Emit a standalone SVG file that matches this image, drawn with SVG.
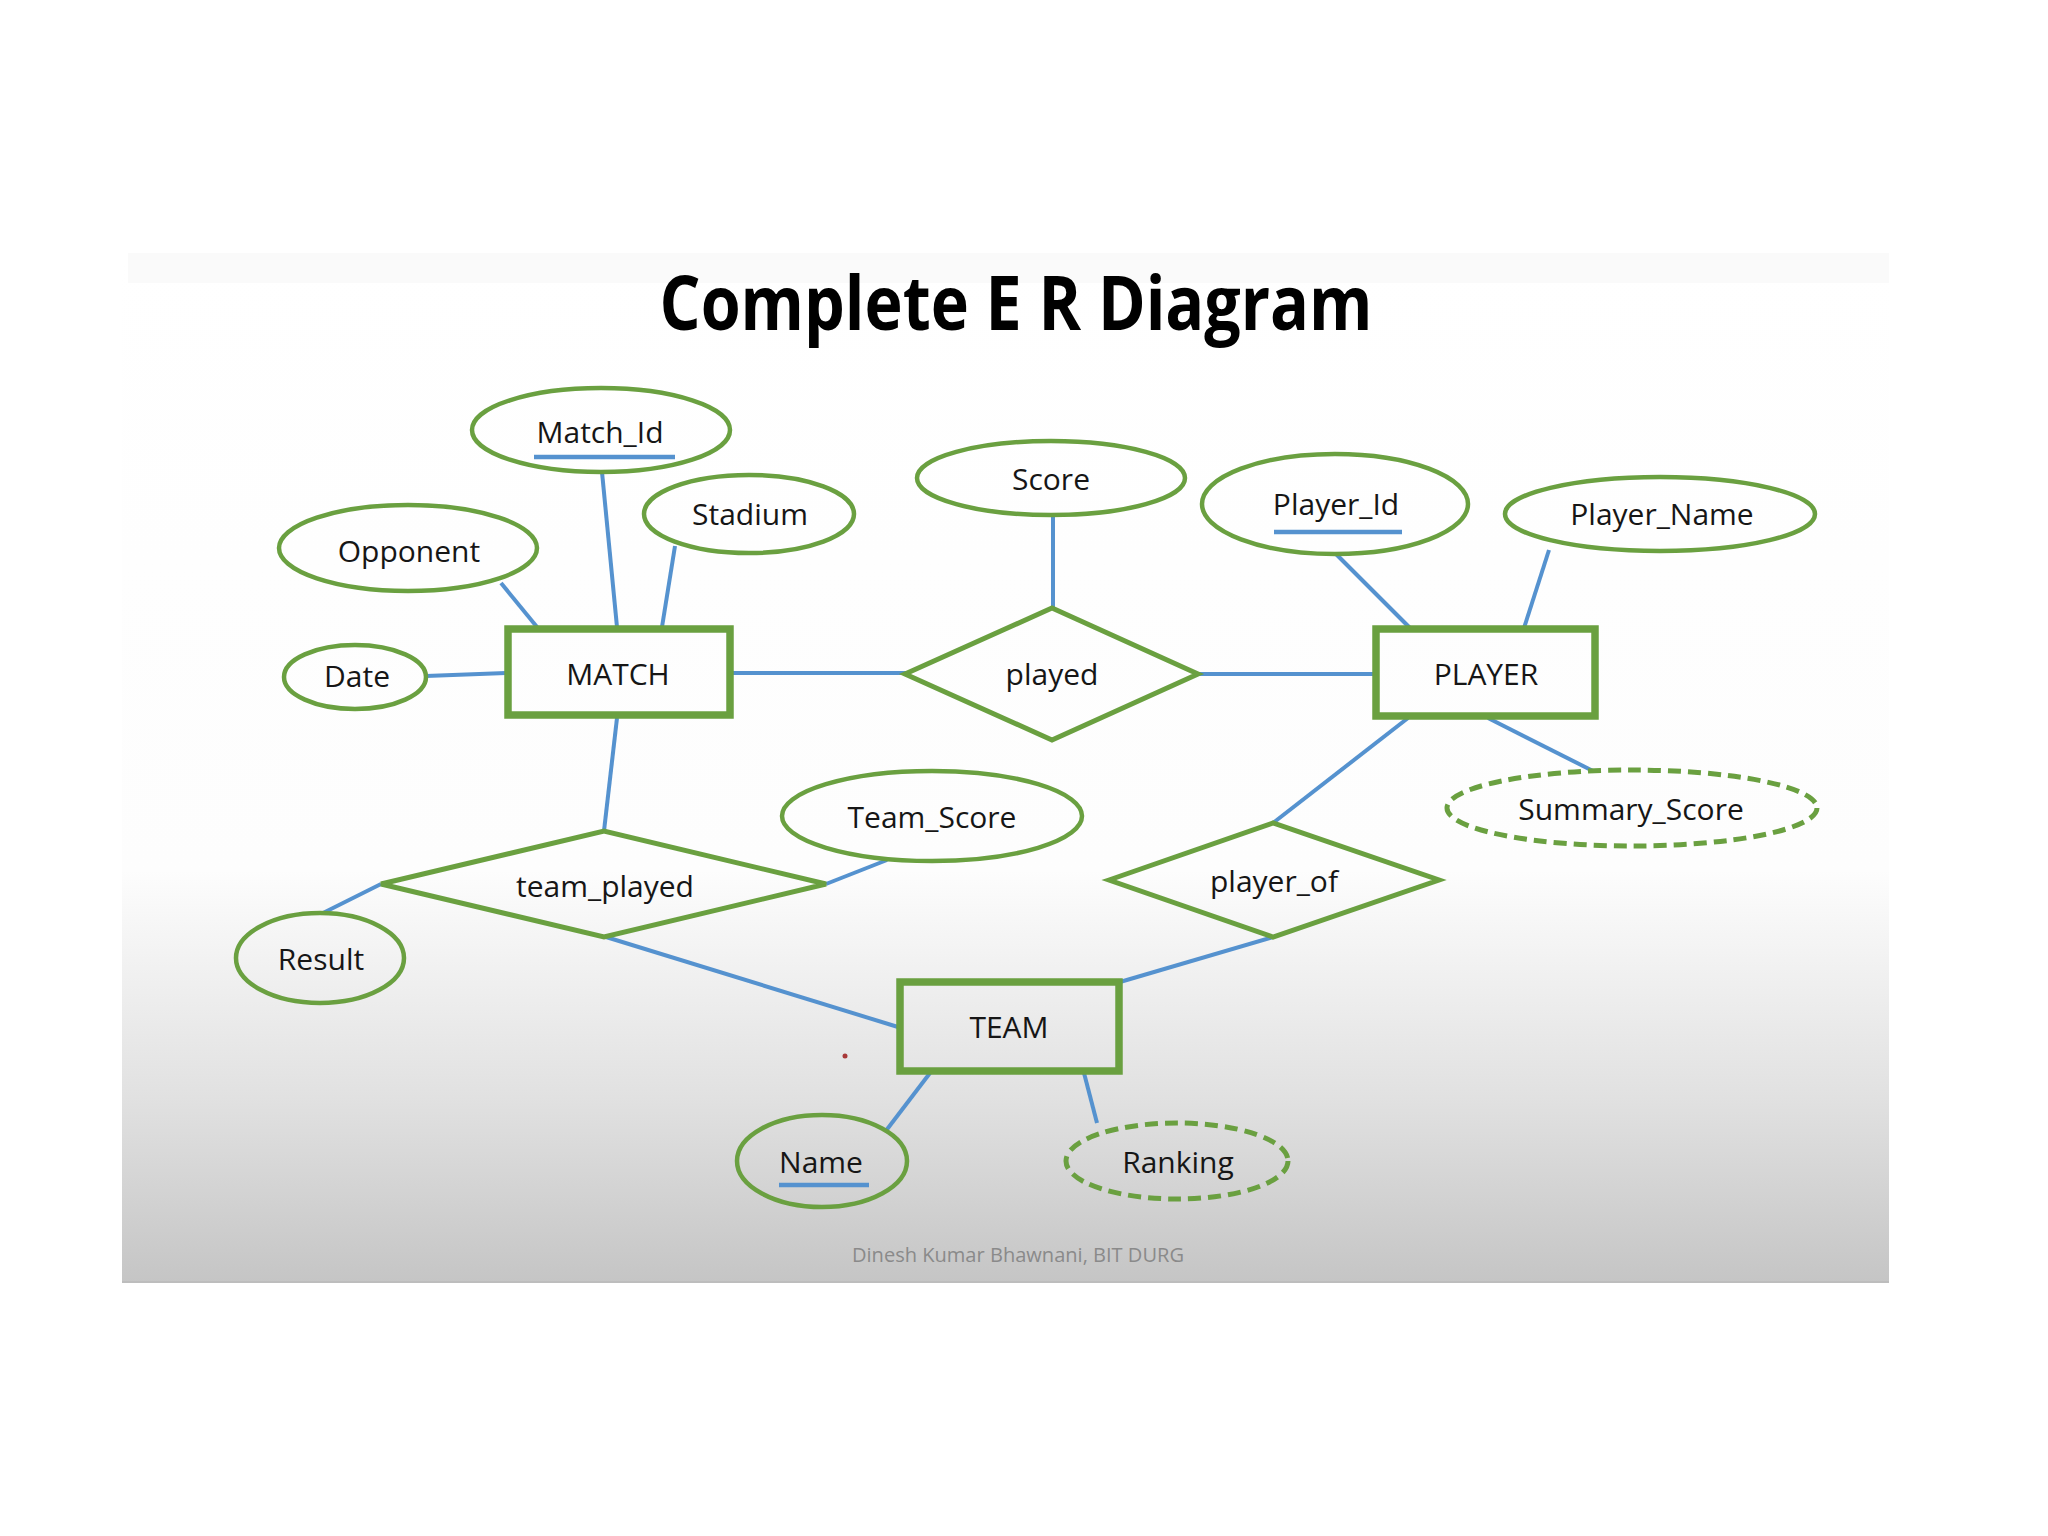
<svg xmlns="http://www.w3.org/2000/svg" width="2048" height="1536" viewBox="0 0 2048 1536">
  <defs>
    <linearGradient id="slideBg" x1="0" y1="0" x2="0" y2="1">
      <stop offset="0" stop-color="#ffffff"/>
      <stop offset="0.6" stop-color="#fdfdfd"/>
      <stop offset="0.82" stop-color="#e1e1e1"/>
      <stop offset="1" stop-color="#c5c5c5"/>
    </linearGradient>
    <style>
      .attr { fill: none; stroke: #6aa040; stroke-width: 4.5; }
      .derived { fill: none; stroke: #6aa040; stroke-width: 5; stroke-dasharray: 13 7; }
      .entity { fill: none; stroke: #6aa040; stroke-width: 7.5; }
      .rel { fill: none; stroke: #6aa040; stroke-width: 5; stroke-linejoin: miter; }
      .conn line { stroke: #5592cf; stroke-width: 4; stroke-linecap: butt; }
      .key { stroke: #5592cf; stroke-width: 4.5; }
      .lbl { font-family: "Open Sans", "Noto Sans", "Liberation Sans", sans-serif; font-size: 30px; fill: #161616; text-anchor: middle; }
    </style>
  </defs>

  <rect x="0" y="0" width="2048" height="1536" fill="#ffffff"/>
  <rect x="122" y="252" width="1767" height="1031" fill="url(#slideBg)"/>
  <rect x="128" y="253" width="1761" height="30" fill="#fafafa"/>
  <line x1="122" y1="1282" x2="1889" y2="1282" stroke="#bdbdbd" stroke-width="2"/>

  <text x="1016" y="330" font-family="'Open Sans', 'Noto Sans', 'Liberation Sans', sans-serif" font-weight="bold" font-size="76" fill="#000000" text-anchor="middle" textLength="713" lengthAdjust="spacingAndGlyphs">Complete E R Diagram</text>

  <g id="connectors" class="conn">
    <line x1="501" y1="583" x2="537" y2="627"/>
    <line x1="602" y1="472" x2="617" y2="627"/>
    <line x1="675" y1="546" x2="662" y2="627"/>
    <line x1="426" y1="676" x2="506" y2="673"/>
    <line x1="731" y1="673" x2="906" y2="673"/>
    <line x1="1053" y1="515" x2="1053" y2="608"/>
    <line x1="1198" y1="674" x2="1374" y2="674"/>
    <line x1="1336" y1="554" x2="1410" y2="628"/>
    <line x1="1549" y1="550" x2="1524" y2="628"/>
    <line x1="1408" y1="718" x2="1273" y2="823"/>
    <line x1="1488" y1="718" x2="1593" y2="771"/>
    <line x1="617" y1="718" x2="604" y2="831"/>
    <line x1="887" y1="860" x2="826" y2="884"/>
    <line x1="323" y1="913" x2="381" y2="884"/>
    <line x1="606" y1="937" x2="898" y2="1027"/>
    <line x1="1273" y1="937" x2="1120" y2="982"/>
    <line x1="930" y1="1073" x2="885" y2="1132"/>
    <line x1="1084" y1="1073" x2="1097" y2="1123"/>
  </g>

  <g id="match">
    <rect class="entity" x="508" y="629" width="222" height="86"/>
    <text class="lbl" x="618" y="685">MATCH</text>
  </g>
  <g id="player">
    <rect class="entity" x="1376" y="629" width="219" height="87"/>
    <text class="lbl" x="1486" y="685">PLAYER</text>
  </g>
  <g id="team">
    <rect class="entity" x="900" y="982" width="219" height="89"/>
    <text class="lbl" x="1009" y="1038">TEAM</text>
  </g>

  <g id="played">
    <polygon class="rel" points="905,674 1052,608 1198,674 1052,740"/>
    <text class="lbl" x="1052" y="685">played</text>
  </g>
  <g id="team_played">
    <polygon class="rel" points="381,884 604,831 826,884 604,937"/>
    <text class="lbl" x="605" y="897">team_played</text>
  </g>
  <g id="player_of">
    <polygon class="rel" points="1109,880 1273,823 1439,880 1273,937"/>
    <text class="lbl" x="1274" y="892">player_of</text>
  </g>

  <g id="match_id">
    <ellipse class="attr" cx="601" cy="430" rx="129" ry="42"/>
    <text class="lbl" x="600" y="443">Match_Id</text>
    <line class="key" x1="534" y1="457" x2="675" y2="457"/>
  </g>
  <g id="stadium">
    <ellipse class="attr" cx="749" cy="514" rx="105" ry="39"/>
    <text class="lbl" x="750" y="525">Stadium</text>
  </g>
  <g id="opponent">
    <ellipse class="attr" cx="408" cy="548" rx="129" ry="43"/>
    <text class="lbl" x="409" y="562">Opponent</text>
  </g>
  <g id="date">
    <ellipse class="attr" cx="355" cy="677" rx="71" ry="32"/>
    <text class="lbl" x="357" y="687">Date</text>
  </g>
  <g id="score">
    <ellipse class="attr" cx="1051" cy="478" rx="134" ry="37"/>
    <text class="lbl" x="1051" y="490">Score</text>
  </g>
  <g id="player_id">
    <ellipse class="attr" cx="1335" cy="504" rx="133" ry="50"/>
    <text class="lbl" x="1336" y="515">Player_Id</text>
    <line class="key" x1="1274" y1="532" x2="1402" y2="532"/>
  </g>
  <g id="player_name">
    <ellipse class="attr" cx="1660" cy="514" rx="155" ry="37"/>
    <text class="lbl" x="1662" y="525">Player_Name</text>
  </g>
  <g id="summary_score">
    <ellipse class="derived" cx="1632" cy="808" rx="185" ry="38"/>
    <text class="lbl" x="1631" y="820">Summary_Score</text>
  </g>
  <g id="team_score">
    <ellipse class="attr" cx="932" cy="816" rx="150" ry="45"/>
    <text class="lbl" x="932" y="828">Team_Score</text>
  </g>
  <g id="result">
    <ellipse class="attr" cx="320" cy="958" rx="84" ry="45"/>
    <text class="lbl" x="321" y="970">Result</text>
  </g>
  <g id="name">
    <ellipse class="attr" cx="822" cy="1161" rx="85" ry="46"/>
    <text class="lbl" x="821" y="1173">Name</text>
    <line class="key" x1="779" y1="1185" x2="869" y2="1185"/>
  </g>
  <g id="ranking">
    <ellipse class="derived" cx="1177" cy="1161" rx="111" ry="38"/>
    <text class="lbl" x="1178" y="1173">Ranking</text>
  </g>

  <circle cx="845" cy="1056" r="2.5" fill="#a83838"/>

  <text x="1018" y="1262" font-family="'Open Sans', 'Noto Sans', 'Liberation Sans', sans-serif" font-size="20" fill="#8a8a8a" text-anchor="middle" textLength="332" lengthAdjust="spacingAndGlyphs">Dinesh Kumar Bhawnani, BIT DURG</text>
</svg>
